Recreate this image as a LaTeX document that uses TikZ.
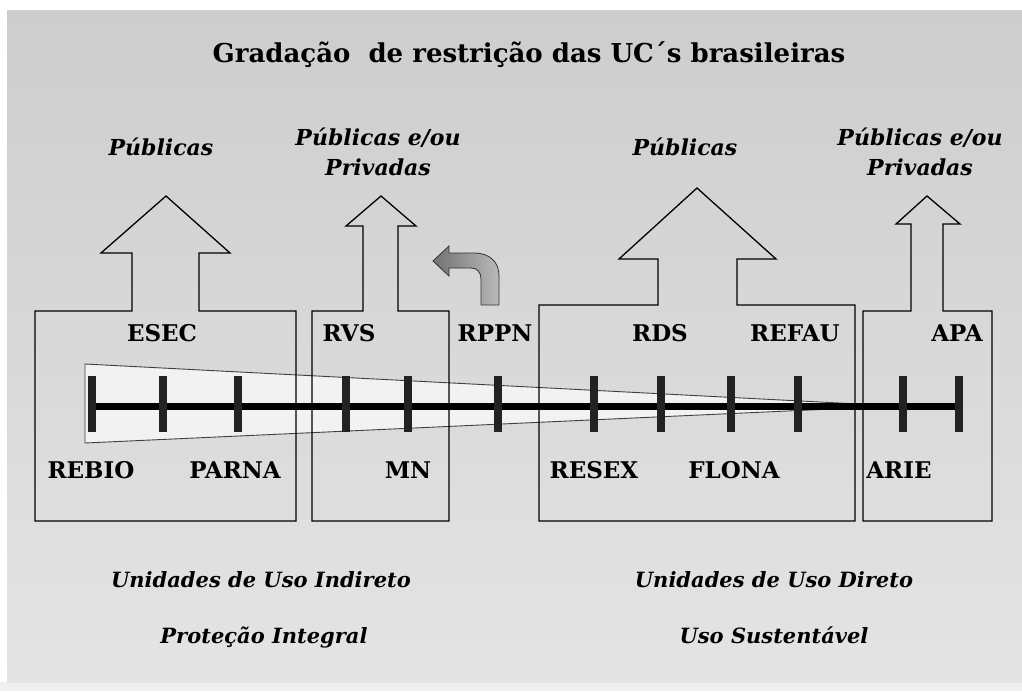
\documentclass[tikz,border=0pt]{standalone}
\usepackage{fontspec}
\setmainfont{DejaVu Serif}
\usetikzlibrary{shapes.geometric}
\definecolor{panelTop}{HTML}{CDCDCD}
\definecolor{panelBot}{HTML}{E4E4E4}
\definecolor{wedgeFill}{HTML}{F2F2F2}
\definecolor{tickCol}{HTML}{222222}
\begin{document}
\begin{tikzpicture}[x=1pt,y=-1pt,
  outline/.style={draw=black,line width=1.3pt,line join=miter},
  lab/.style={anchor=base,inner sep=0pt,font=\fontsize{23}{26}\bfseries\selectfont},
  toplab/.style={anchor=base,inner sep=0pt,align=center,font=\fontsize{22}{30}\bfseries\itshape\selectfont},
  botlab/.style={anchor=base,inner sep=0pt,font=\fontsize{21}{24}\bfseries\itshape\selectfont},
  tickmark/.style={draw=tickCol,line width=8pt},
  axisline/.style={draw=black,line width=7pt}]
\useasboundingbox (0,0) rectangle (1022,691);
\fill[white] (0,0) rectangle (1022,691);
\fill[gray!12] (0,682) rectangle (1022,691);
\shade[top color=panelTop,bottom color=panelBot] (7,10) rectangle (1022,682);
% wedge
\coordinate (wTL) at (85,364);
\coordinate (wBL) at (85,443);
\coordinate (wTip) at (897,406);
\filldraw[fill=wedgeFill,draw=black!75,line width=0.9pt] (wTL) -- (wTip) -- (wBL) -- cycle;
% boxes with arrows
\draw[outline] (35,521) -- (35,311) -- (132,311) -- (132,253) -- (101,253) -- (166,196) -- (230,253) -- (199,253) -- (199,311) -- (296,311) -- (296,521) -- cycle;
\draw[outline] (312,521) -- (312,311) -- (363,311) -- (363,226) -- (346,226) -- (381,196) -- (416,226) -- (398,226) -- (398,311) -- (449,311) -- (449,521) -- cycle;
\draw[outline] (539,521) -- (539,305) -- (658,305) -- (658,259) -- (619,259) -- (697,188) -- (776,259) -- (737,259) -- (737,305) -- (855,305) -- (855,521) -- cycle;
\draw[outline] (863,521) -- (863,311) -- (911,311) -- (911,224) -- (896,224) -- (927,196) -- (960,224) -- (943,224) -- (943,311) -- (992,311) -- (992,521) -- cycle;
% axis
\coordinate (aL) at (93,406);
\coordinate (aR) at (959,406);
\draw[axisline] (aL) -- (aR);
\foreach \x in {92,163,238,346,408,498,594,661,731,798,903,959}{
  \draw[tickmark] (\x,376) -- (\x,432);
}
% curved arrow
\shade[left color=gray!110,right color=gray!55,draw=gray!40!black,line width=0.8pt]
  (499,305) -- (499,276) .. controls (499,262) and (490,253) .. (474,253) -- (449,253) -- (449,246) -- (433,261) -- (449,276) -- (449,268) -- (471,268) .. controls (477,268) and (481,272) .. (481,279) -- (481,305) -- cycle;
% title
\node[anchor=base,inner sep=0pt,font=\fontsize{26}{30}\bfseries\selectfont] (title) at (529,62) {Gradação~ de restrição das UC´s brasileiras};
% top labels
\node[toplab] (pub1) at (161,155) {Públicas};
\node[toplab] (pub2a) at (378,145) {Públicas e/ou};
\node[toplab] (pub2b) at (378,175) {Privadas};
\node[toplab] (pub3) at (685,155) {Públicas};
\node[toplab] (pub4a) at (920,145) {Públicas e/ou};
\node[toplab] (pub4b) at (920,175) {Privadas};
% unit labels
\node[lab] (esec) at (162,341) {ESEC};
\node[lab] (rvs) at (349,341) {RVS};
\node[lab] (rppn) at (495,341) {RPPN};
\node[lab] (rds) at (660,341) {RDS};
\node[lab] (refau) at (795,341) {REFAU};
\node[lab] (apa) at (957,341) {APA};
\node[lab] (rebio) at (91,478) {REBIO};
\node[lab] (parna) at (235,478) {PARNA};
\node[lab] (mn) at (408,478) {MN};
\node[lab] (resex) at (594,478) {RESEX};
\node[lab] (flona) at (734,478) {FLONA};
\node[lab] (arie) at (899,478) {ARIE};
% bottom labels
\node[botlab] (uind) at (261,587) {Unidades de Uso Indireto};
\node[botlab] (pint) at (264,643) {Proteção Integral};
\node[botlab] (udir) at (774,587) {Unidades de Uso Direto};
\node[botlab] (usus) at (774,643) {Uso Sustentável};
\end{tikzpicture}
\end{document}
